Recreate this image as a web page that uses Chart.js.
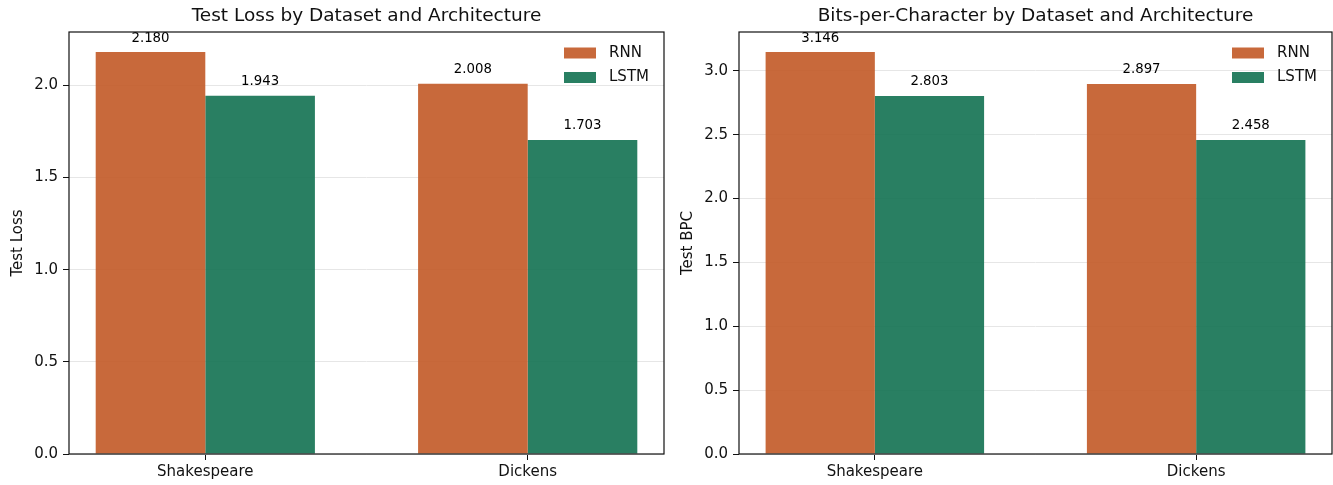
<!DOCTYPE html>
<html>
<head>
<meta charset="utf-8">
<script src="https://cdn.jsdelivr.net/npm/chart.js@4.4.1/dist/chart.umd.min.js"></script>
<style>
    body { margin: 0; background: #fff; }
    #wrap { position: relative; width: 1333px; height: 485px; }
    canvas { position: absolute; top: 0; }
</style>
</head>
<body>
<div id="wrap">
    <canvas id="lossChart" width="670" height="485" style="left:0"></canvas>
    <canvas id="bpcChart" width="663" height="485" style="left:670px"></canvas>
</div>
<script>
const categories = ['Shakespeare', 'Dickens'];
const seriesNames = ['RNN', 'LSTM'];
const lossRNN = [2.180, 2.008];
const lossLSTM = [1.943, 1.703];
const bpcRNN = [3.146, 2.897];
const bpcLSTM = [2.803, 2.458];

const colors = ['rgba(194, 89, 38, 0.9)', 'rgba(18, 113, 81, 0.9)'];
const FONT = "'DejaVu Sans', sans-serif";

// value text above every bar
const valueLabels = {
    id: 'valueLabels',
    afterDatasetsDraw(chart) {
        const ctx = chart.ctx;
        ctx.save();
        ctx.font = '13.3px ' + FONT;
        ctx.fillStyle = '#000';
        ctx.textAlign = 'center';
        ctx.textBaseline = 'middle';
        chart.data.datasets.forEach((ds, di) => {
            chart.getDatasetMeta(di).data.forEach((bar, i) => {
                ctx.fillText(ds.data[i].y.toFixed(3), bar.x, bar.y - 14);
            });
        });
        ctx.restore();
    }
};

// matplotlib style box around the axes + legend in the top right corner
const frameAndLegend = {
    id: 'frameAndLegend',
    afterDraw(chart) {
        const ctx = chart.ctx;
        const a = chart.chartArea;
        ctx.save();
        ctx.strokeStyle = '#111';
        ctx.lineWidth = 1.2;
        ctx.strokeRect(a.left, a.top, a.right - a.left, a.bottom - a.top);

        ctx.font = '15px ' + FONT;
        ctx.textAlign = 'left';
        ctx.textBaseline = 'middle';
        chart.data.datasets.forEach((ds, i) => {
            const cy = a.top + 21 + i * 24.5;
            ctx.fillStyle = ds.backgroundColor;
            ctx.fillRect(a.right - 100, cy - 5.5, 32, 11);
            ctx.fillStyle = '#111';
            ctx.fillText(ds.label, a.right - 55, cy);
        });
        ctx.restore();
    }
};

function makeChart(id, title, yLabel, rnn, lstm, yMax, padRight) {
    const ctx = document.getElementById(id).getContext('2d');
    return new Chart(ctx, {
        type: 'bar',
        data: {
            datasets: [
                { label: seriesNames[0], data: rnn.map((v, i) => ({ x: i, y: v })), backgroundColor: colors[0] },
                { label: seriesNames[1], data: lstm.map((v, i) => ({ x: i, y: v })), backgroundColor: colors[1] }
            ]
        },
        options: {
            responsive: false,
            animation: false,
            devicePixelRatio: 1,
            categoryPercentage: 0.68,
            barPercentage: 1.0,
            layout: { padding: { left: 0, right: padRight, top: 0, bottom: 0 } },
            plugins: {
                legend: { display: false },
                tooltip: { enabled: false },
                title: {
                    display: true,
                    fullSize: false,
                    text: title,
                    color: '#111',
                    font: { family: FONT, size: 18.5, weight: 'normal', lineHeight: 1.2 },
                    padding: { top: 5.4, bottom: 4.4 }
                }
            },
            scales: {
                x: {
                    type: 'linear',
                    offset: false,
                    min: -0.4228,
                    max: 1.4228,
                    afterBuildTicks: (scale) => {
                        scale.ticks = categories.map((c, i) => ({ value: i }));
                    },
                    afterFit: (scale) => { scale.height = 31; },
                    ticks: {
                        callback: (v) => categories[v],
                        color: '#111',
                        font: { family: FONT, size: 15 },
                        padding: 3,
                        maxRotation: 0,
                        autoSkip: false
                    },
                    grid: {
                        offset: false,
                        drawOnChartArea: false,
                        drawTicks: true,
                        tickLength: 6,
                        tickColor: '#111'
                    },
                    border: { display: false }
                },
                y: {
                    min: 0,
                    max: yMax,
                    afterFit: (scale) => { scale.width = 69; },
                    ticks: {
                        stepSize: 0.5,
                        includeBounds: false,
                        callback: (v) => v.toFixed(1),
                        color: '#111',
                        font: { family: FONT, size: 15 },
                        padding: 5
                    },
                    grid: {
                        color: '#e6e6e6',
                        lineWidth: 1,
                        drawTicks: true,
                        tickLength: 6,
                        tickColor: '#111'
                    },
                    border: { display: false },
                    title: {
                        display: true,
                        text: yLabel,
                        color: '#111',
                        font: { family: FONT, size: 15, lineHeight: 1.2 },
                        padding: { top: 9, bottom: 0 }
                    }
                }
            }
        },
        plugins: [valueLabels, frameAndLegend]
    });
}

makeChart('lossChart', 'Test Loss by Dataset and Architecture', 'Test Loss', lossRNN, lossLSTM, 2.180 * 1.05, 6);
makeChart('bpcChart', 'Bits-per-Character by Dataset and Architecture', 'Test BPC', bpcRNN, bpcLSTM, 3.146 * 1.05, 1);
</script>
</body>
</html>
